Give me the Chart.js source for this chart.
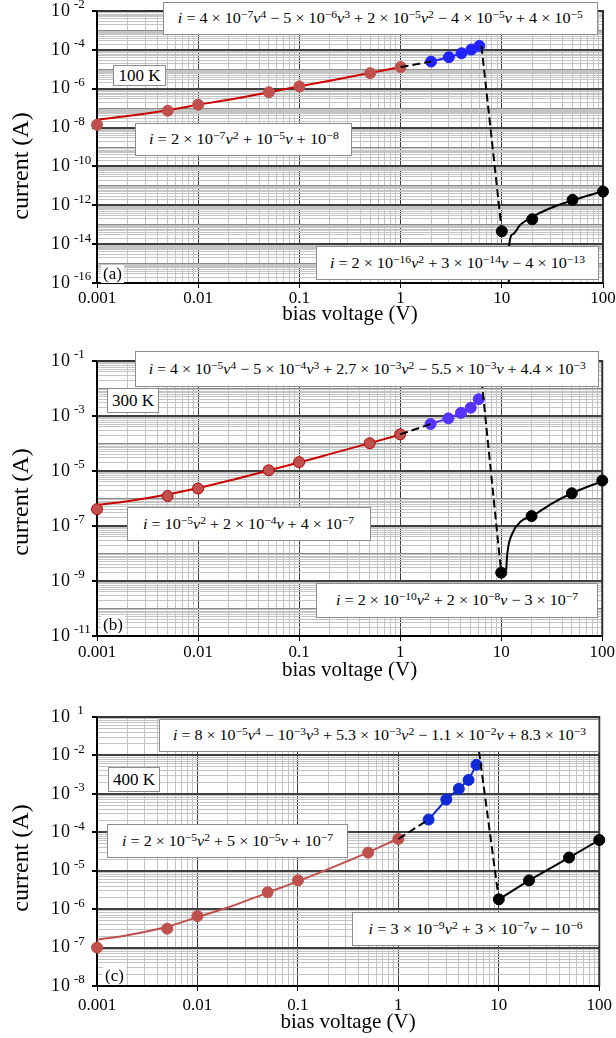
<!DOCTYPE html>
<html>
<head>
<meta charset="utf-8">
<script src="https://cdn.jsdelivr.net/npm/chart.js@4.4.0/dist/chart.umd.min.js"></script>
<style>
  html, body { margin: 0; padding: 0; background: #fff; }
  #wrap { position: relative; width: 616px; height: 1038px; overflow: hidden; }
  canvas { position: absolute; left: 0; }
  .box {
    position: absolute; background: #fff; border: 1px solid #8c8c8c; box-sizing: border-box;
    display: flex; align-items: center; justify-content: center; white-space: nowrap;
    font-family: "Liberation Serif", serif; color: #000;
  }
  .eq { font-size: 15px; }
  .eq span { display: inline-block; }
  .eq sup { font-size: 0.72em; vertical-align: 0.5em; line-height: 0; }
  .tag { font-size: 17px; }
  .letter {
    position: absolute; background: #fff; font: 17px "Liberation Serif", serif;
    padding: 0 2px; line-height: 18px;
  }
</style>
</head>
<body>
<div id="wrap">
  <canvas id="ca" width="616" height="330" style="top:0px"></canvas>
  <canvas id="cb" width="616" height="355" style="top:330px"></canvas>
  <canvas id="cc" width="616" height="353" style="top:685px"></canvas>
</div>
<script>
// bias voltages (V)
const vLow = [0.001, 0.005, 0.01, 0.05, 0.1, 0.5, 1];
const vMid = [2, 3, 4, 5, 6];
const vHigh = [10, 20, 50, 100];
const vFitLow = [0.001, 0.002, 0.005, 0.01, 0.02, 0.05, 0.1, 0.2, 0.5, 1];
const xDecades = [0.001, 0.01, 0.1, 1, 10, 100];
const xTickLabels = ['0.001', '0.01', '0.1', '1', '10', '100'];

// 100 K currents (A)
const iLow100 = [1.4e-8, 7.4e-8, 1.5e-7, 6.6e-7, 1.3e-6, 6.3e-6, 1.3e-5];
const iMid100 = [2.5e-5, 4.2e-5, 6.7e-5, 1.04e-4, 1.6e-4];
const iHigh100 = [4.6e-14, 1.9e-13, 1.9e-12, 5.1e-12];
const iFitLow100 = [2.5e-8, 3.9e-8, 7.8e-8, 1.5e-7, 2.7e-7, 6.6e-7, 1.35e-6, 2.6e-6, 6.5e-6, 1.3e-5];
const vFitHigh100 = [11.7, 11.8, 12.9, 15.1, 20, 30, 50, 100];
const iFitHigh100 = [1e-17, 8e-15, 3.3e-14, 9.3e-14, 2.5e-13, 7e-13, 1.8e-12, 5.3e-12];
const vDrop100 = [6.3, 10];
const iDrop100 = [1.6e-4, 4.6e-14];
const yPow100 = [-2, -4, -6, -8, -10, -12, -14, -16];
const ySup100 = ['-2', '-4', '-6', '-8', '-10', '-12', '-14', '-16'];

// 300 K currents (A)
const iLow300 = [4.1e-7, 1.23e-6, 2.3e-6, 1.06e-5, 2.1e-5, 1.02e-4, 2.15e-4];
const iMid300 = [5.1e-4, 8.2e-4, 1.3e-3, 2.0e-3, 4.1e-3];
const iHigh300 = [2.0e-9, 2.3e-7, 1.55e-6, 4.5e-6];
const iFitLow300 = [5.8e-7, 8e-7, 1.4e-6, 2.4e-6, 4.4e-6, 1.05e-5, 2.05e-5, 4.1e-5, 1.03e-4, 2.1e-4];
const vFitHigh300 = [11.2, 11.5, 12.9, 15.6, 20.3, 32, 50, 100];
const iFitHigh300 = [2.5e-9, 1.0e-8, 5.4e-8, 1.45e-7, 2.3e-7, 6.7e-7, 1.55e-6, 4.3e-6];
const vDrop300 = [6.4, 10];
const iDrop300 = [2e-2, 2.0e-9];
const yPow300 = [-1, -3, -5, -7, -9, -11];
const ySup300 = ['-1', '-3', '-5', '-7', '-9', '-11'];

// 400 K currents (A)
const iLow400 = [1.0e-7, 3.1e-7, 6.6e-7, 2.75e-6, 5.6e-6, 2.95e-5, 6.7e-5];
const iMid400 = [2.14e-4, 7.1e-4, 1.35e-3, 2.3e-3, 5.7e-3];
const iHigh400 = [1.8e-6, 5.6e-6, 2.2e-5, 6.3e-5];
const iFitLow400 = [1.6e-7, 2.1e-7, 3.5e-7, 6.2e-7, 1.1e-6, 2.7e-6, 5.3e-6, 1.1e-5, 3.0e-5, 6.9e-5];
const vDrop400 = [6.35, 10];
const iDrop400 = [1.3e-2, 1.8e-6];
const yPow400 = [-1, -2, -3, -4, -5, -6, -7, -8];
const ySup400 = [' 1', '-2', '-3', '-4', '-5', '-6', '-7', '-8'];

Chart.defaults.font.family = '"Liberation Serif", serif';

const pts = (xs, ys) => xs.map((x, k) => ({ x: x, y: ys[k] }));

function isDecade(v) {
  const l = Math.log10(v);
  return Math.abs(l - Math.round(l)) < 1e-6;
}

// every 1..9 x 10^n between min and max, so the grid shows the minor lines
function logTicks(min, max) {
  const out = [];
  const e0 = Math.floor(Math.log10(min) + 1e-9);
  const e1 = Math.ceil(Math.log10(max) - 1e-9);
  for (let e = e0; e <= e1; e++) {
    for (let m = 1; m <= 9; m++) {
      const v = Number((m * Math.pow(10, e)).toPrecision(10));
      if (v >= min * 0.999999 && v <= max * 1.000001) out.push({ value: v });
    }
  }
  return out;
}

const panels = [
  {
    canvas: 'ca', yMin: 1e-16, yMax: 1e-2, padTop: 11, xAxisH: 47, xLabelPad: 0,
    xTitleY: 314, yTitleY: 166,
    yPow: yPow100, ySup: ySup100,
    iLow: iLow100, iMid: iMid100, iHigh: iHigh100, iFitLow: iFitLow100,
    vFitHigh: vFitHigh100, iFitHigh: iFitHigh100, vDrop: vDrop100, iDrop: iDrop100,
    redLine: '#cc0000', redEdge: '#c0504d', blue: '#2323ff'
  },
  {
    canvas: 'cb', yMin: 1e-11, yMax: 1e-1, padTop: 31, xAxisH: 49, xLabelPad: 1,
    xTitleY: 340, yTitleY: 172,
    yPow: yPow300, ySup: ySup300,
    iLow: iLow300, iMid: iMid300, iHigh: iHigh300, iFitLow: iFitLow300,
    vFitHigh: vFitHigh300, iFitHigh: iFitHigh300, vDrop: vDrop300, iDrop: iDrop300,
    redLine: '#cc0000', redEdge: '#c00000', blue: '#5633ff'
  },
  {
    canvas: 'cc', yMin: 1e-8, yMax: 1e-1, padTop: 32, xAxisH: 52, xLabelPad: 4,
    xTitleY: 337, yTitleY: 173,
    yPow: yPow400, ySup: ySup400,
    iLow: iLow400, iMid: iMid400, iHigh: iHigh400, iFitLow: iFitLow400,
    vFitHigh: null, iFitHigh: null, vDrop: vDrop400, iDrop: iDrop400,
    redLine: '#c0504d', redEdge: '#c0504d', blue: '#0f2bd6'
  }
];

// axis titles, superscripted y labels and the top/right frame
const decor = {
  id: 'decor',
  beforeDatasetsDraw(chart) {
    const a = chart.chartArea, ctx = chart.ctx;
    ctx.save();
    ctx.strokeStyle = '#333';
    ctx.lineWidth = 2;
    ctx.beginPath();
    ctx.moveTo(a.left, a.top);
    ctx.lineTo(a.right, a.top);
    ctx.lineTo(a.right, a.bottom);
    ctx.stroke();
    ctx.restore();
  },
  afterDraw(chart) {
    const p = chart.options.plugins.decor;
    const ctx = chart.ctx, ya = chart.scales.y, a = chart.chartArea;
    ctx.save();
    ctx.fillStyle = '#000';
    ctx.textBaseline = 'middle';
    ctx.textAlign = 'left';
    p.yPow.forEach((e, k) => {
      const y = ya.getPixelForValue(Math.pow(10, e));
      ctx.font = '18px "Liberation Serif"';
      ctx.fillText('1', 51, y);
      ctx.fillText('0', 61, y);
      ctx.font = '13px "Liberation Serif"';
      ctx.fillText(p.ySup[k], 74, y - 6);
    });
    ctx.textAlign = 'center';
    ctx.font = '21px "Liberation Serif"';
    ctx.fillText('bias voltage (V)', (a.left + a.right) / 2, p.xTitleY);
    ctx.translate(22, p.yTitleY);
    ctx.rotate(-Math.PI / 2);
    ctx.font = '24px "Liberation Serif"';
    ctx.fillText('current (A)', 0, 0);
    ctx.restore();
  }
};

panels.forEach(p => {
  const labeledY = v => isDecade(v) && p.yPow.includes(Math.round(Math.log10(v)));
  const pointStyle = (bg, edge) => ({
    showLine: false, clip: false, pointRadius: 5.5, pointHoverRadius: 5.5,
    pointBackgroundColor: bg, pointBorderColor: edge, pointBorderWidth: 1
  });
  const datasets = [
    // dashed links between the three regions
    {
      data: pts([1, 2], [p.iLow[6], p.iMid[0]]), showLine: true, borderColor: '#000',
      borderWidth: 2, borderDash: [8, 4], pointRadius: 0, order: 0
    },
    {
      data: pts(p.vDrop, p.iDrop), showLine: true, borderColor: '#000',
      borderWidth: 2, borderDash: [8, 4], pointRadius: 0, order: 0
    },
    Object.assign({ data: pts(vLow, p.iLow), order: 1 }, pointStyle('#c0504d', p.redEdge)),
    {
      data: pts(vFitLow, p.iFitLow), showLine: true, borderColor: p.redLine, borderWidth: 2,
      pointRadius: 0, cubicInterpolationMode: 'monotone', order: 2
    },
    Object.assign({ data: pts(vMid, p.iMid), order: 1 }, pointStyle(p.blue, p.blue),
      { showLine: true, borderColor: p.blue, borderWidth: 2 }),
    Object.assign({ data: pts(vHigh, p.iHigh), order: 1 }, pointStyle('#000', '#000'),
      { showLine: !p.vFitHigh, borderColor: '#000', borderWidth: 2 })
  ];
  if (p.vFitHigh) {
    datasets.push({
      data: pts(p.vFitHigh, p.iFitHigh), showLine: true, borderColor: '#000', borderWidth: 2,
      pointRadius: 0, cubicInterpolationMode: 'monotone', order: 2
    });
  }

  new Chart(document.getElementById(p.canvas), {
    type: 'scatter',
    data: { datasets: datasets },
    options: {
      responsive: false,
      animation: false,
      events: [],
      layout: { padding: { left: 0, right: 13, top: p.padTop, bottom: 0 } },
      plugins: {
        legend: { display: false },
        tooltip: { enabled: false },
        decor: p
      },
      scales: {
        x: {
          type: 'logarithmic', min: 0.001, max: 100,
          afterBuildTicks: s => { s.ticks = logTicks(0.001, 100); },
          afterFit: s => { s.height = p.xAxisH; },
          grid: {
            color: c => isDecade(c.tick.value) ? '#3a3a3a' : '#c4c4c4',
            lineWidth: 1, drawTicks: true, tickLength: 5,
            tickColor: c => isDecade(c.tick.value) ? '#000' : 'rgba(0,0,0,0)'
          },
          border: { display: true, color: '#000', width: 2 },
          ticks: {
            autoSkip: false, maxRotation: 0, minRotation: 0, padding: p.xLabelPad, color: '#000',
            font: { size: 17 },
            callback: v => {
              const k = xDecades.findIndex(d => Math.abs(Math.log10(d) - Math.log10(v)) < 1e-6);
              return k < 0 ? '' : xTickLabels[k];
            }
          }
        },
        y: {
          type: 'logarithmic', min: p.yMin, max: p.yMax,
          afterBuildTicks: s => { s.ticks = logTicks(p.yMin, p.yMax); },
          afterFit: s => { s.width = 97; },
          grid: {
            color: c => labeledY(c.tick.value) ? '#404040' : (isDecade(c.tick.value) ? '#8a8a8a' : '#c4c4c4'),
            lineWidth: c => labeledY(c.tick.value) ? 2 : 1,
            drawTicks: true, tickLength: 5,
            tickColor: c => labeledY(c.tick.value) ? '#000' : 'rgba(0,0,0,0)'
          },
          border: { display: true, color: '#000', width: 2 },
          ticks: { display: false }
        }
      }
    },
    plugins: [decor]
  });
});

// fitted equations, temperature tags and panel letters
const boxes = [
  { x: 163, y: 2, w: 435, h: 33, tw: 405, eq: 'i = 4 × 10^{−7}v^{4} − 5 × 10^{−6}v^{3} + 2 × 10^{−5}v^{2} − 4 × 10^{−5}v + 4 × 10^{−5}' },
  { x: 135, y: 123, w: 217, h: 33, tw: 190, eq: 'i = 2 × 10^{−7}v^{2} + 10^{−5}v + 10^{−8}' },
  { x: 316, y: 246, w: 283, h: 34, tw: 255, eq: 'i = 2 × 10^{−16}v^{2} + 3 × 10^{−14}v − 4 × 10^{−13}' },
  { x: 135, y: 351, w: 464, h: 36, tw: 437, eq: 'i = 4 × 10^{−5}v^{4} − 5 × 10^{−4}v^{3} + 2.7 × 10^{−3}v^{2} − 5.5 × 10^{−3}v + 4.4 × 10^{−3}' },
  { x: 127, y: 507, w: 244, h: 34, tw: 211, eq: 'i = 10^{−5}v^{2} + 2 × 10^{−4}v + 4 × 10^{−7}' },
  { x: 316, y: 583, w: 282, h: 35, tw: 242, eq: 'i = 2 × 10^{−10}v^{2} + 2 × 10^{−8}v − 3 × 10^{−7}' },
  { x: 159, y: 719, w: 440, h: 33, tw: 413, eq: 'i = 8 × 10^{−5}v^{4} − 10^{−3}v^{3} + 5.3 × 10^{−3}v^{2} − 1.1 × 10^{−2}v + 8.3 × 10^{−3}' },
  { x: 107, y: 824, w: 241, h: 34, tw: 211, eq: 'i = 2 × 10^{−5}v^{2} + 5 × 10^{−5}v + 10^{−7}' },
  { x: 352, y: 912, w: 247, h: 34, tw: 214, eq: 'i = 3 × 10^{−9}v^{2} + 3 × 10^{−7}v − 10^{−6}' }
];
const tags = [
  { x: 113, y: 65, w: 53, h: 21, text: '100 K' },
  { x: 107, y: 388, w: 52, h: 25, text: '300 K' },
  { x: 108, y: 767, w: 52, h: 25, text: '400 K' }
];
const letters = [
  { x: 101, y: 265, text: '(a)' },
  { x: 101, y: 616, text: '(b)' },
  { x: 103, y: 967, text: '(c)' }
];

function mathHtml(s) {
  return s.replace(/\b([iv])\b/g, '<i>$1</i>').replace(/\^\{([^}]*)\}/g, '<sup>$1</sup>');
}

const wrap = document.getElementById('wrap');
boxes.forEach(b => {
  const d = document.createElement('div');
  d.className = 'box eq';
  Object.assign(d.style, { left: b.x + 'px', top: b.y + 'px', width: b.w + 'px', height: b.h + 'px' });
  const s = document.createElement('span');
  s.innerHTML = mathHtml(b.eq);
  d.appendChild(s);
  wrap.appendChild(d);
  const w = s.getBoundingClientRect().width;
  if (w > 0) s.style.transform = 'scaleX(' + (b.tw / w).toFixed(3) + ')';
});
tags.forEach(t => {
  const d = document.createElement('div');
  d.className = 'box tag';
  Object.assign(d.style, { left: t.x + 'px', top: t.y + 'px', width: t.w + 'px', height: t.h + 'px' });
  d.textContent = t.text;
  wrap.appendChild(d);
});
letters.forEach(t => {
  const d = document.createElement('div');
  d.className = 'letter';
  Object.assign(d.style, { left: t.x + 'px', top: t.y + 'px' });
  d.textContent = t.text;
  wrap.appendChild(d);
});
</script>
</body>
</html>
